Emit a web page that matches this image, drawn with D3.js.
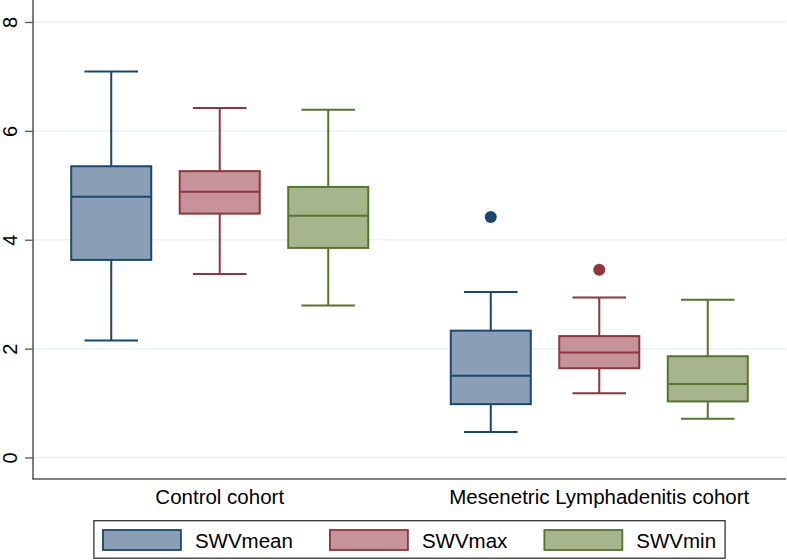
<!DOCTYPE html>
<html>
<head>
<meta charset="utf-8">
<script src="https://cdn.jsdelivr.net/npm/d3@7"></script>
<style>
  html, body { margin: 0; padding: 0; background: #fff; }
</style>
</head>
<body>
<svg width="787" height="560"></svg>
<script>
// data, indexed [group][series]
const groups = ['Control cohort', 'Mesenetric Lymphadenitis cohort'];
const series = ['SWVmean', 'SWVmax', 'SWVmin'];
const whiskerLow  = [[2.15, 3.37, 2.79], [0.47, 1.18, 0.71]];
const q1          = [[3.63, 4.48, 3.85], [0.98, 1.64, 1.03]];
const median      = [[4.79, 4.88, 4.44], [1.50, 1.93, 1.35]];
const q3          = [[5.35, 5.26, 4.97], [2.33, 2.23, 1.86]];
const whiskerHigh = [[7.09, 6.42, 6.39], [3.04, 2.94, 2.90]];
const outliers = [
  {group: 1, series: 0, value: 4.42},
  {group: 1, series: 1, value: 3.45}
];
const yTicks = [0, 2, 4, 6, 8];

const strokeColors = ['#1a476f', '#90353b', '#55752f'];
const fillColors = ['#8a9fb5', '#c6939a', '#a6b58c'];
const font = '"Liberation Sans", Arial, Helvetica, sans-serif';

const svg = d3.select('svg');
const plotLeft = 33, plotRight = 786, plotTop = 0, plotBottom = 479;

// y scale
const y = d3.scaleLinear().domain([0, 8]).range([457.5, 22]);

// group positions and series offsets inside a group
const xGroup = d3.scalePoint().domain(groups).range([plotLeft, plotRight]).padding(0.492);
const xSeries = d3.scaleBand().domain(series).range([-148.5, 148.5])
  .paddingInner(0.2627).paddingOuter(0);
const bw = xSeries.bandwidth();
const capW = bw * 0.67;

// gridlines
svg.append('g')
  .selectAll('line')
  .data(yTicks)
  .enter().append('line')
  .attr('x1', plotLeft).attr('x2', plotRight)
  .attr('y1', d => y(d)).attr('y2', d => y(d))
  .attr('stroke', '#eaf2f3')
  .attr('stroke-width', 1.5);

// left axis
const yAxis = svg.append('g')
  .attr('transform', `translate(${plotLeft},0)`)
  .call(d3.axisLeft(y).tickValues(yTicks).tickSize(8).tickPadding(8).tickFormat(d3.format('d')));
yAxis.select('.domain').remove();
yAxis.selectAll('.tick line').attr('stroke', '#555').attr('stroke-width', 1.3);
yAxis.selectAll('.tick text')
  .attr('font-family', font)
  .attr('font-size', '20px')
  .attr('fill', '#000')
  .attr('text-anchor', 'middle')
  .attr('dy', 0)
  .attr('x', 0)
  .attr('transform', 'translate(-16,0) rotate(-90)');

svg.append('line')
  .attr('x1', plotLeft).attr('x2', plotLeft)
  .attr('y1', plotTop).attr('y2', plotBottom)
  .attr('stroke', '#555').attr('stroke-width', 1.5);
svg.append('line')
  .attr('x1', plotLeft - 0.75).attr('x2', plotRight)
  .attr('y1', plotBottom).attr('y2', plotBottom)
  .attr('stroke', '#555').attr('stroke-width', 1.5);

// build a flat list of boxes
const boxes = [];
groups.forEach((g, gi) => {
  series.forEach((s, si) => {
    boxes.push({
      gi, si,
      cx: xGroup(g) + xSeries(s) + bw / 2,
      lo: whiskerLow[gi][si], q1: q1[gi][si], med: median[gi][si],
      q3: q3[gi][si], hi: whiskerHigh[gi][si]
    });
  });
});

const bx = svg.append('g').selectAll('g')
  .data(boxes)
  .enter().append('g');

// whiskers
bx.append('line')
  .attr('x1', d => d.cx).attr('x2', d => d.cx)
  .attr('y1', d => y(d.hi)).attr('y2', d => y(d.q3))
  .attr('stroke', d => strokeColors[d.si]).attr('stroke-width', 2);
bx.append('line')
  .attr('x1', d => d.cx).attr('x2', d => d.cx)
  .attr('y1', d => y(d.q1)).attr('y2', d => y(d.lo))
  .attr('stroke', d => strokeColors[d.si]).attr('stroke-width', 2);
// caps
bx.append('line')
  .attr('x1', d => d.cx - capW / 2).attr('x2', d => d.cx + capW / 2)
  .attr('y1', d => y(d.hi)).attr('y2', d => y(d.hi))
  .attr('stroke', d => strokeColors[d.si]).attr('stroke-width', 2);
bx.append('line')
  .attr('x1', d => d.cx - capW / 2).attr('x2', d => d.cx + capW / 2)
  .attr('y1', d => y(d.lo)).attr('y2', d => y(d.lo))
  .attr('stroke', d => strokeColors[d.si]).attr('stroke-width', 2);
// box
bx.append('rect')
  .attr('x', d => d.cx - bw / 2)
  .attr('width', bw)
  .attr('y', d => y(d.q3))
  .attr('height', d => y(d.q1) - y(d.q3))
  .attr('fill', d => fillColors[d.si])
  .attr('stroke', d => strokeColors[d.si])
  .attr('stroke-width', 2);
// median
bx.append('line')
  .attr('x1', d => d.cx - bw / 2).attr('x2', d => d.cx + bw / 2)
  .attr('y1', d => y(d.med)).attr('y2', d => y(d.med))
  .attr('stroke', d => strokeColors[d.si]).attr('stroke-width', 2);

// outliers
svg.append('g').selectAll('circle')
  .data(outliers)
  .enter().append('circle')
  .attr('cx', d => xGroup(groups[d.group]) + xSeries(series[d.series]) + bw / 2)
  .attr('cy', d => y(d.value))
  .attr('r', 6)
  .attr('fill', d => strokeColors[d.series]);

// group labels
svg.append('g').selectAll('text')
  .data(groups)
  .enter().append('text')
  .attr('x', d => xGroup(d))
  .attr('y', 504)
  .attr('text-anchor', 'middle')
  .attr('font-family', font)
  .attr('font-size', '20.5px')
  .attr('fill', '#000')
  .text(d => d);

// legend
const swW = 78, swH = 20, gapText = 14, gapItem = 37, padL = 9, padR = 9;
const leg = svg.append('g');
const items = leg.selectAll('g')
  .data(series)
  .enter().append('g');
items.append('text')
  .attr('font-family', font)
  .attr('font-size', '20.5px')
  .attr('fill', '#000')
  .attr('y', 548)
  .text(d => d);
let widths = [];
items.select('text').each(function () { widths.push(this.getComputedTextLength()); });
const total = padL + d3.sum(widths.map(w => swW + gapText + w)) + gapItem * (series.length - 1) + padR;
const legLeft = (plotLeft + plotRight) / 2 - total / 2;
let cursor = legLeft + padL;
const starts = widths.map(w => { const s = cursor; cursor += swW + gapText + w + gapItem; return s; });
items.append('rect')
  .attr('x', (d, i) => starts[i])
  .attr('y', 530)
  .attr('width', swW)
  .attr('height', swH)
  .attr('fill', (d, i) => fillColors[i])
  .attr('stroke', (d, i) => strokeColors[i])
  .attr('stroke-width', 1.8);
items.select('text').attr('x', (d, i) => starts[i] + swW + gapText);
leg.insert('rect', ':first-child')
  .attr('x', legLeft)
  .attr('y', 520.7)
  .attr('width', total)
  .attr('height', 37.5)
  .attr('fill', '#fff')
  .attr('stroke', '#333')
  .attr('stroke-width', 1.3);
</script>
</body>
</html>
